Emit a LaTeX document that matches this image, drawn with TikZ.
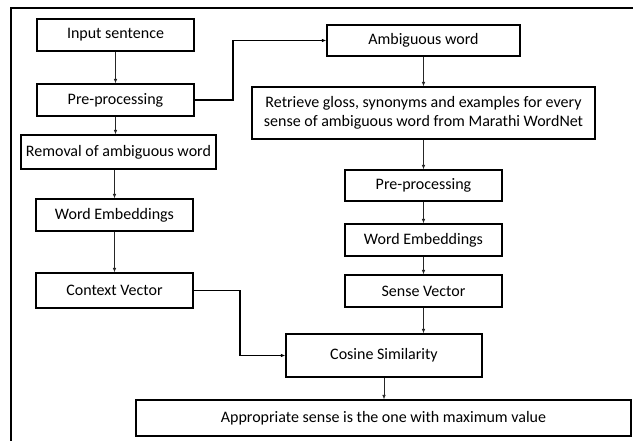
\documentclass[tikz,border=0pt]{standalone}
\usepackage{fontspec}
\setmainfont{Carlito}
\usetikzlibrary{arrows.meta}
\begin{document}
\begin{tikzpicture}[x=1pt,y=-1pt,
  box/.style={draw=black, line width=1.2pt, rectangle, inner sep=0pt, font=\fontsize{16}{19}\selectfont, align=center},
  arr/.style={draw=black!85, line width=0.7pt, -{Latex[length=4.5pt,width=3.5pt]}},
  elb/.style={draw=black, line width=1.2pt, -{Latex[length=4.5pt,width=3.5pt]}}]
\useasboundingbox (0,0) rectangle (633,441);
\fill[white] (0,0) rectangle (633,441);
% frame
\draw[line width=1.5pt] (11,441) -- (11,8) -- (633,8);
% left column
\node[box, minimum width=157pt, minimum height=32pt] (in)   at (115.5,35)   {Input sentence};
\node[box, minimum width=157pt, minimum height=32pt] (pre1) at (115.5,100)  {Pre-processing};
\node[box, minimum width=195pt, minimum height=34pt] (rem)  at (118.5,152)  {Removal of ambiguous word};
\node[box, minimum width=157pt, minimum height=32pt] (we1)  at (114.5,215)  {Word Embeddings};
\node[box, minimum width=157pt, minimum height=35pt] (cv)   at (114.5,290.5) {Context Vector};
% right column
\node[box, minimum width=193pt, minimum height=31pt] (amb)  at (423.5,40.5) {Ambiguous word};
\node[box, minimum width=343pt, minimum height=52pt] (ret)  at (423.5,113)  {Retrieve gloss, synonyms and examples for every\\sense of ambiguous word from Marathi WordNet};
\node[box, minimum width=157pt, minimum height=31pt] (pre2) at (423.5,185.5) {Pre-processing};
\node[box, minimum width=157pt, minimum height=32pt] (we2)  at (423.5,240)  {Word Embeddings};
\node[box, minimum width=157pt, minimum height=32pt] (sv)   at (423.5,291)  {Sense Vector};
% bottom
\node[box, minimum width=196pt, minimum height=43pt] (cos)  at (384,355.5)  {Cosine Similarity};
\node[box, minimum width=495pt, minimum height=36pt] (app)  at (383.5,418)  {Appropriate sense is the one with maximum value};
% bend points
\coordinate (k1) at (233,0);
\coordinate (k2) at (240,0);
% connectors
\draw[arr] (in) -- (pre1);
\draw[arr] (pre1.south) -- (pre1.south |- rem.north);
\draw[arr] (we1.north |- rem.south) -- (we1.north);
\draw[arr] (we1) -- (cv);
\draw[elb] (pre1.east) -- (pre1.east -| k1) |- (amb.west);
\draw[arr] (amb) -- (ret);
\draw[arr] (ret) -- (pre2);
\draw[arr] (pre2) -- (we2);
\draw[arr] (we2) -- (sv);
\draw[arr] (sv.south) -- (sv.south |- cos.north);
\draw[elb] (cv.east) -- (cv.east -| k2) |- (cos.west);
\draw[arr] (cos.south) -- (cos.south |- app.north);
\end{tikzpicture}
\end{document}
